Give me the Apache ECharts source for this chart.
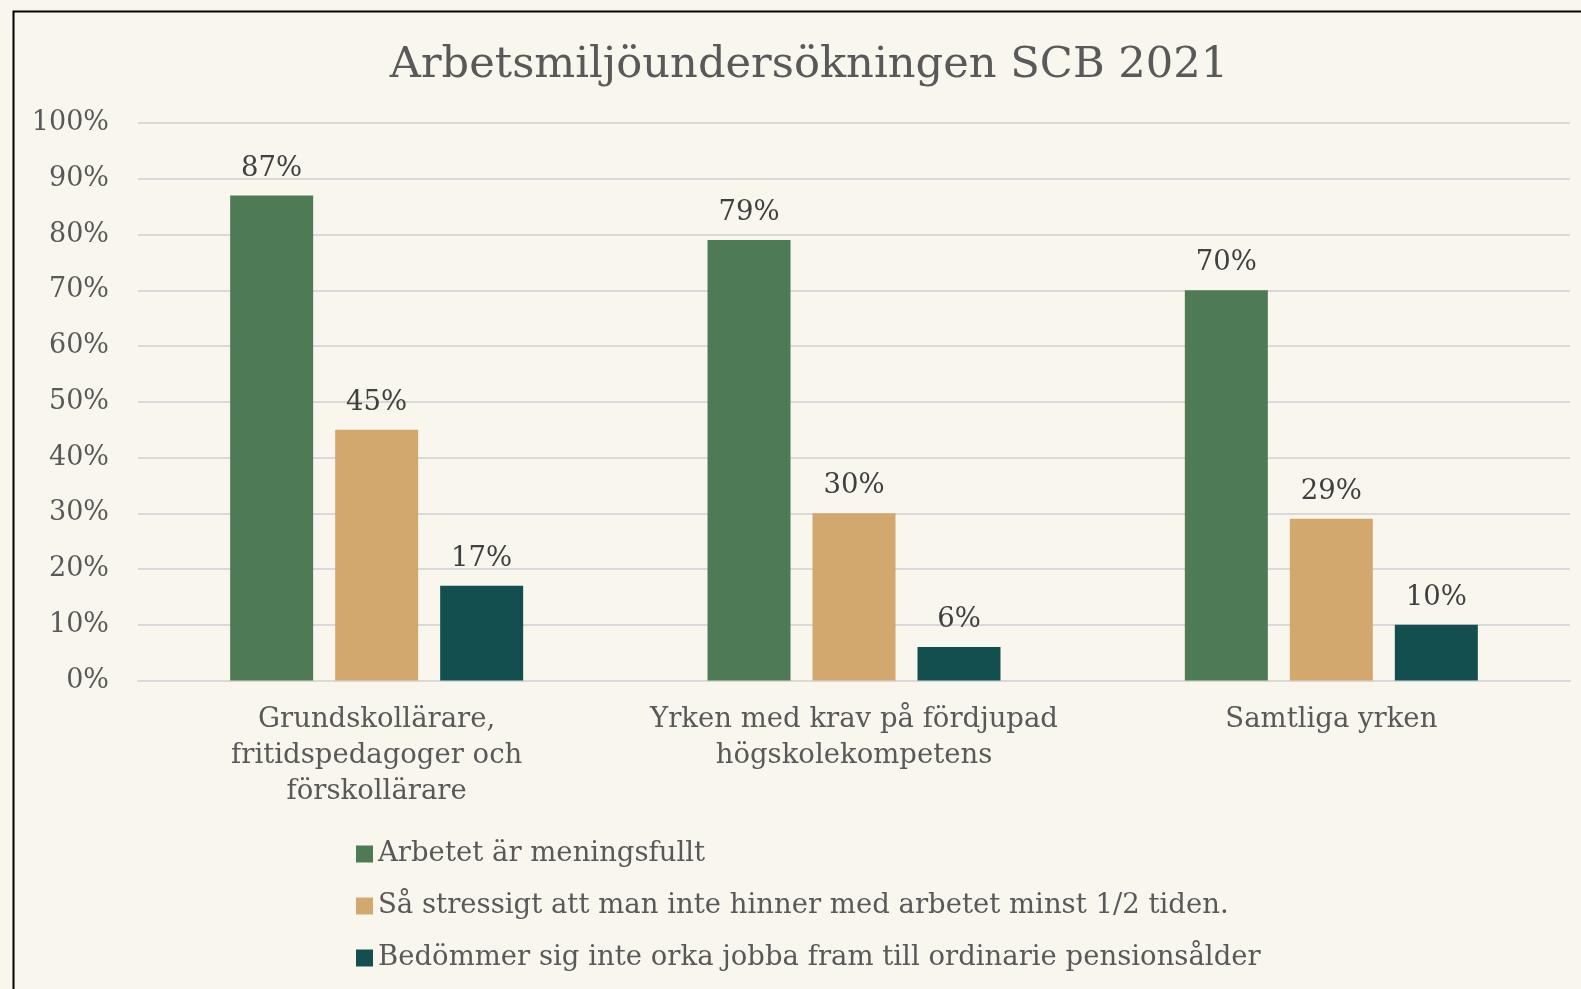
<!DOCTYPE html>
<html>
<head>
<meta charset="utf-8">
<script src="https://cdn.jsdelivr.net/npm/echarts@6/dist/echarts.min.js"></script>
<style>
html,body{margin:0;padding:0;background:#F9F7ED;}
#c{width:1581px;height:989px;}
</style>
</head>
<body>
<div id="c"></div>
<script>
const categories = [
  "Grundskollärare,\nfritidspedagoger och\nförskollärare",
  "Yrken med krav på fördjupad\nhögskolekompetens",
  "Samtliga yrken"
];
const seriesNames = [
  "Arbetet är meningsfullt",
  "Så stressigt att man inte hinner med arbetet minst 1/2 tiden.",
  "Bedömmer sig inte orka jobba fram till ordinarie pensionsålder"
];
const meaningful = [87, 79, 70];
const stressed = [45, 30, 29];
const notOrka = [17, 6, 10];
const colors = ["#4E7A55", "#D2A86F", "#134F4F"];
const yTicks = [0, 10, 20, 30, 40, 50, 60, 70, 80, 90, 100];

const FONT = "'DejaVu Serif', Georgia, serif";
const chart = echarts.init(document.getElementById('c'));
const values = [meaningful, stressed, notOrka];
const legendTops = [840, 892, 944];
chart.setOption({
  backgroundColor: '#F9F7ED',
  animation: false,
  title: {
    text: 'Arbetsmiljöundersökningen SCB 2021',
    left: 804, top: 39, textAlign: 'center',
    textStyle: {fontFamily: FONT, fontSize: 43.2, fontWeight: 'normal', color: '#595959'}
  },
  graphic: [{
    type: 'rect', shape: {x: 13.5, y: 11.5, width: 1620, height: 1020},
    style: {fill: 'none', stroke: '#000', lineWidth: 2}, z: 100
  }],
  legend: seriesNames.map((n, i) => ({
    orient: 'vertical', left: 356, top: legendTops[i],
    itemWidth: 17, itemHeight: 17, itemGap: 6, icon: 'rect', padding: 0,
    textStyle: {fontFamily: FONT, fontSize: 27.5, color: '#595959', padding: [0,0,0,0]},
    data: [n]
  })),
  grid: {left: 138, right: 11, top: 123, bottom: 308.5, containLabel: false},
  xAxis: {
    type: 'category', data: categories,
    axisLine: {show: true, lineStyle: {color: '#D9D9D9', width: 2}},
    axisTick: {show: false},
    axisLabel: {fontFamily: FONT, fontSize: 27.5, color: '#595959', lineHeight: 36, margin: 21, interval: 0}
  },
  yAxis: {
    type: 'value', min: yTicks[0], max: yTicks[yTicks.length-1], interval: 10,
    axisLine: {show: false}, axisTick: {show: false},
    splitLine: {lineStyle: {color: '#D9D9D9', width: 2}},
    axisLabel: {fontFamily: FONT, fontSize: 27, color: '#595959', margin: 29, formatter: '{value}%'}
  },
  series: seriesNames.map((n, i) => ({
    name: n, type: 'bar', data: values[i],
    barWidth: 83, barGap: '26.5%',
    itemStyle: {color: colors[i]},
    label: {show: true, position: 'top', distance: 13, formatter: '{c}%',
      fontFamily: FONT, fontSize: 27.5, color: '#404040'}
  }))
});
</script>
</body>
</html>
